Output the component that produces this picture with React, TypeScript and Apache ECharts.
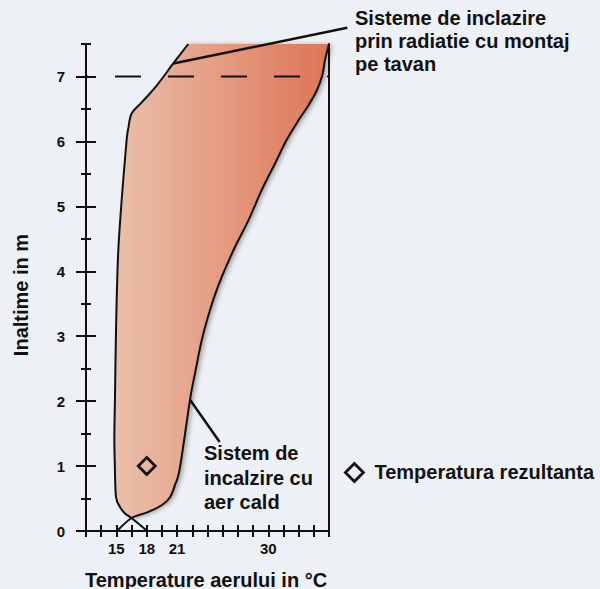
import React, { useEffect, useRef } from 'react';
import * as echarts from 'echarts';

// ---- data (temperature °C, height m) ----
const xRange = [12, 36];
const yRange = [0, 7.5];
const xStep = 1.5;
const xTickLabels = [15, 18, 21, 30];
const yTickLabels = [0, 1, 2, 3, 4, 5, 6, 7];
const yHalfTicks = [0.5, 1.5, 2.5, 3.5, 4.5, 5.5, 6.5, 7.5];

// left boundary (warm air heating profile, read bottom to top)
const leftEdge = [
  [18.05, 0], [16.5, 0.2], [15.85, 0.27], [15.36, 0.37], [14.96, 0.53], [14.85, 1.0],
  [14.8, 1.45], [14.86, 2.02], [14.93, 2.78], [15.03, 3.55], [15.19, 4.32], [15.52, 5.09],
  [16.0, 6.0], [16.2, 6.22], [16.51, 6.43], [17.5, 6.6], [18.98, 6.86], [20.62, 7.2], [22.1, 7.5],
];
// right boundary (read top to bottom)
const rightEdge = [
  [36, 7.5], [35.6, 7.25], [35.34, 7.02], [34.78, 6.78], [33.95, 6.55], [32.97, 6.32],
  [31.81, 6.02], [30.67, 5.66], [29.35, 5.25], [28.03, 4.78], [26.55, 4.32], [24.9, 3.71],
  [23.59, 3.04], [22.77, 2.43], [22.27, 2.02], [21.28, 0.98], [20.79, 0.71], [20.3, 0.52],
  [19.5, 0.4], [18.1, 0.29], [16.5, 0.2], [15.06, 0],
];
const crossing = [16.5, 0.2];
const radiantPointer = [[20.62, 7.2], [37.8, 7.75]];
const airPointer = [[22.27, 2.02], [25.2, 1.37]];
const resultingTemp = [[18, 1]];
const ceilingLine = [[12, 7], [36, 7]];

const FONT = "'Liberation Sans', Arial, Helvetica, sans-serif";
const INK = '#111111';

function seg(pts: number[][], from: number, to: number, cmd: string) {
  let d = `${cmd}${pts[from][0]},${pts[from][1]}`;
  const t = 1 / 6;
  for (let i = from; i < to; i++) {
    const p0 = pts[Math.max(i - 1, 0)];
    const p1 = pts[i];
    const p2 = pts[i + 1];
    const p3 = pts[Math.min(i + 2, pts.length - 1)];
    const c1 = [p1[0] + (p2[0] - p0[0]) * t, p1[1] + (p2[1] - p0[1]) * t];
    const c2 = [p2[0] - (p3[0] - p1[0]) * t, p2[1] - (p3[1] - p1[1]) * t];
    d += `C${c1[0]},${c1[1]} ${c2[0]},${c2[1]} ${p2[0]},${p2[1]}`;
  }
  return d;
}

const axisLabelStyle = { fontSize: 15, fontWeight: 'bold', color: INK, fontFamily: FONT };
const lineSt = { color: INK, width: 2 };

function buildOption() {
  const gradient = new echarts.graphic.LinearGradient(0, 0, 1, 0, [
    { offset: 0, color: '#EBC0AB' },
    { offset: 1, color: '#DD7656' },
  ]);
  const same = (a: number[], b: number[]) => a[0] === b[0] && a[1] === b[1];
  return {
    animation: false,
    backgroundColor: '#EDF0F4',
    grid: { left: 86, right: 271, top: 44, bottom: 58, containLabel: false },
    xAxis: [
      {
        type: 'value', min: xRange[0], max: xRange[1], interval: xStep, position: 'bottom',
        axisLine: { show: true, lineStyle: lineSt },
        axisTick: { show: true, length: 6, lineStyle: lineSt },
        axisLabel: { ...axisLabelStyle, margin: 10, customValues: xTickLabels },
        splitLine: { show: false },
      },
      {
        type: 'value', min: xRange[0], max: xRange[1], interval: xStep, position: 'bottom',
        axisLine: { show: false },
        axisTick: { show: true, inside: true, length: 6, lineStyle: lineSt },
        axisLabel: { show: false },
        splitLine: { show: false },
      },
      {
        type: 'value', min: xRange[0], max: xRange[1], position: 'top',
        axisLine: { show: true, lineStyle: lineSt },
        axisTick: { show: false }, axisLabel: { show: false }, splitLine: { show: false },
      },
    ],
    yAxis: [
      {
        type: 'value', min: yRange[0], max: yRange[1], position: 'left',
        axisLine: { show: true, lineStyle: lineSt },
        axisTick: { show: true, length: 10, lineStyle: lineSt, customValues: yTickLabels },
        axisLabel: { ...axisLabelStyle, margin: 21, customValues: yTickLabels },
        splitLine: { show: false },
      },
      {
        type: 'value', min: yRange[0], max: yRange[1], position: 'left',
        axisLine: { show: false },
        axisTick: { show: true, inside: true, length: 10, lineStyle: lineSt, customValues: yTickLabels },
        axisLabel: { show: false }, splitLine: { show: false },
      },
      {
        type: 'value', min: yRange[0], max: yRange[1], position: 'left',
        axisLine: { show: false },
        axisTick: { show: true, length: 5, lineStyle: lineSt, customValues: yHalfTicks },
        axisLabel: { show: false }, splitLine: { show: false },
      },
      {
        type: 'value', min: yRange[0], max: yRange[1], position: 'left',
        axisLine: { show: false },
        axisTick: { show: true, inside: true, length: 5, lineStyle: lineSt, customValues: yHalfTicks },
        axisLabel: { show: false }, splitLine: { show: false },
      },
      {
        type: 'value', min: yRange[0], max: yRange[1], position: 'right',
        axisLine: { show: true, lineStyle: lineSt },
        axisTick: { show: false }, axisLabel: { show: false }, splitLine: { show: false },
      },
    ],
    legend: {
      data: [{ name: 'Temperatura rezultanta', icon: 'diamond' }],
      left: 344, top: 462, padding: 0,
      itemWidth: 18, itemHeight: 18,
      itemStyle: { color: 'rgba(0,0,0,0)', borderColor: INK, borderWidth: 2.8, opacity: 1 },
      textStyle: { fontSize: 20, fontWeight: 'bold', color: INK, fontFamily: FONT, padding: [0, 0, 0, 6] },
      selectedMode: false,
    },
    series: [
      {
        type: 'custom',
        silent: true,
        z: 2,
        data: [[xRange[0], yRange[0]]],
        renderItem: (_params: any, api: any) => {
          const L = leftEdge.map((p) => api.coord(p));
          const R = rightEdge.map((p) => api.coord(p));
          const ci = leftEdge.findIndex((p) => same(p, crossing));
          const cr = rightEdge.findIndex((p) => same(p, crossing));
          const fillD = seg(L, ci, L.length - 1, 'M') + seg(R, 0, cr, 'L') + 'Z';
          return {
            type: 'group',
            children: [
              {
                type: 'path',
                shape: { pathData: fillD },
                style: {
                  fill: gradient, stroke: 'none',
                  shadowBlur: 5, shadowOffsetX: 3, shadowOffsetY: 1, shadowColor: 'rgba(0,0,0,0.35)',
                },
              },
              { type: 'path', shape: { pathData: seg(L, 0, L.length - 1, 'M') }, style: { fill: 'none', stroke: INK, lineWidth: 2 } },
              { type: 'path', shape: { pathData: seg(R, 0, R.length - 1, 'M') }, style: { fill: 'none', stroke: INK, lineWidth: 2 } },
              { type: 'polyline', shape: { points: radiantPointer.map((p) => api.coord(p)) }, style: { fill: 'none', stroke: INK, lineWidth: 2.5 } },
              { type: 'polyline', shape: { points: airPointer.map((p) => api.coord(p)) }, style: { fill: 'none', stroke: INK, lineWidth: 2.5 } },
            ],
          };
        },
      },
      {
        type: 'line',
        z: 3,
        silent: true,
        data: ceilingLine,
        symbol: 'none',
        lineStyle: { color: INK, width: 2, type: [26, 27], dashOffset: 24 },
      },
      {
        type: 'scatter',
        name: 'Temperatura rezultanta',
        z: 4,
        data: resultingTemp,
        symbol: 'diamond',
        symbolSize: 17,
        itemStyle: { color: 'rgba(0,0,0,0)', borderColor: INK, borderWidth: 2.8, opacity: 1 },
      },
    ],
    graphic: [
      {
        type: 'text', left: 146, top: 112.6, silent: true,
        style: { text: 'Potential de\neconomisire\na energiei', fontSize: 20, fontWeight: 'bold', fill: INK, fontFamily: FONT, lineHeight: 25 },
      },
      {
        type: 'text', left: 355, top: 6.6, silent: true,
        style: { text: 'Sisteme de inclazire\nprin radiatie cu montaj\npe tavan', fontSize: 20, fontWeight: 'bold', fill: INK, fontFamily: FONT, lineHeight: 23 },
      },
      {
        type: 'text', left: 204, top: 440.8, silent: true,
        style: { text: 'Sistem de\nincalzire cu\naer cald', fontSize: 20, fontWeight: 'bold', fill: INK, fontFamily: FONT, lineHeight: 24.5 },
      },
      {
        type: 'text', x: 85, y: 580, silent: true,
        style: { text: 'Temperature aerului in °C', fontSize: 20, fontWeight: 'bold', fill: INK, fontFamily: FONT, verticalAlign: 'middle', align: 'left' },
      },
      {
        type: 'text', x: 21, y: 295, rotation: Math.PI / 2, silent: true,
        style: { text: 'Inaltime in m', fontSize: 20, fontWeight: 'bold', fill: INK, fontFamily: FONT, verticalAlign: 'middle', align: 'center' },
      },
    ],
  };
}

export default function App() {
  const ref = useRef<HTMLDivElement>(null);
  useEffect(() => {
    document.body.style.margin = '0';
    const chart = echarts.init(ref.current as HTMLDivElement, undefined, { renderer: 'svg' });
    chart.setOption(buildOption() as any);
    return () => chart.dispose();
  }, []);
  return <div ref={ref} style={{ width: 600, height: 589, background: '#EDF0F4' }} />;
}
